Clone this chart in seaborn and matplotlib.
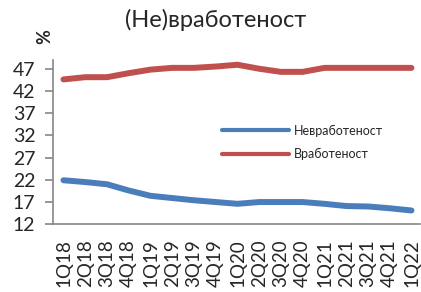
import pandas as pd
import seaborn as sns
import matplotlib
matplotlib.use("Agg")
import matplotlib.pyplot as plt

quarters = ["1Q18", "2Q18", "3Q18", "4Q18", "1Q19", "2Q19", "3Q19", "4Q19",
            "1Q20", "2Q20", "3Q20", "4Q20", "1Q21", "2Q21", "3Q21", "4Q21", "1Q22"]
unemployment = [21.9, 21.5, 21.0, 19.6, 18.4, 17.9, 17.4, 17.0,
                16.6, 17.0, 17.0, 17.0, 16.6, 16.1, 16.0, 15.6, 15.1]
employment = [44.6, 45.1, 45.1, 46.0, 46.8, 47.2, 47.2, 47.5,
              47.9, 47.0, 46.3, 46.3, 47.2, 47.2, 47.2, 47.2, 47.2]
series_names = ["Невработеност", "Вработеност"]
yticks = [12, 17, 22, 27, 32, 37, 42, 47]

df = pd.DataFrame({
    "q": list(range(len(quarters))) * 2,
    "value": unemployment + employment,
    "series": [series_names[0]] * len(quarters) + [series_names[1]] * len(quarters),
})

sns.set_style("white")
plt.rcParams["font.family"] = ["Lato", "Noto Sans", "DejaVu Sans"]

fig = plt.figure(figsize=(4.21, 2.92), dpi=100)
ax = fig.add_axes([0.127, 0.232, 0.871, 0.563])

sns.lineplot(data=df, x="q", y="value", hue="series",
             palette=["#4A7EBB", "#C0504D"], linewidth=4.3, ax=ax,
             solid_capstyle="round")

ax.set_xlim(-0.46, 16.4)
ax.set_ylim(12, 49)
ax.set_yticks(yticks)
ax.set_yticklabels([str(t) for t in yticks], fontsize=14)
ax.set_xticks(range(len(quarters)))
ax.set_xticklabels(quarters, rotation=90, fontsize=13.5, va="top")
ax.tick_params(axis="y", length=6, width=1.2, color="#868686", direction="out", pad=7, left=True)
ax.tick_params(axis="x", length=0, pad=11)
ax.set_xlabel("")
ax.set_ylabel("")
for s in ["top", "right"]:
    ax.spines[s].set_visible(False)
for s in ["left", "bottom"]:
    ax.spines[s].set_color("#868686")
    ax.spines[s].set_linewidth(1.2)

leg = ax.legend(loc="upper left", bbox_to_anchor=(0.43, 0.675), frameon=False,
                fontsize=9, handlelength=5.3, labelspacing=0.9, handletextpad=0.4)
for line in leg.get_lines():
    line.set_linewidth(3)

fig.text(0.513, 0.93, "(Не)вработеност", ha="center", va="center", fontsize=17)
fig.text(0.107, 0.876, "%", ha="center", va="center", rotation=90, fontsize=13, fontweight="bold")

fig.savefig("out.png", dpi=100)
